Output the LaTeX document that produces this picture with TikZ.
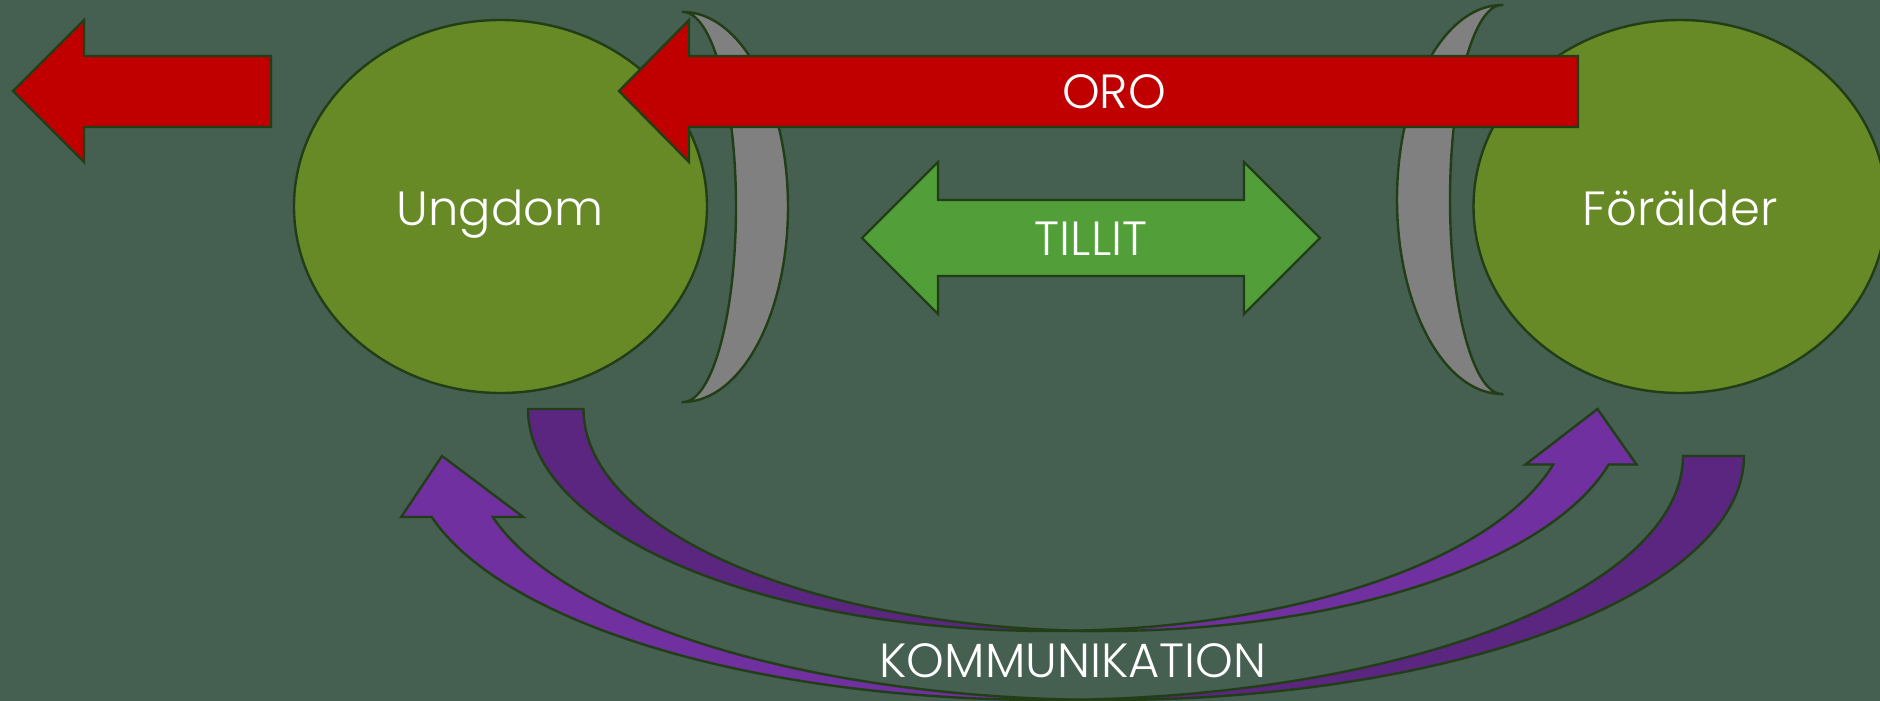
\documentclass[tikz,border=0pt]{standalone}
\usepackage{fontspec}
\setmainfont{Poppins Light}
\usetikzlibrary{shapes.geometric}
\definecolor{bgcol}{RGB}{69,95,81}
\definecolor{edgecol}{RGB}{33,62,22}
\definecolor{olivecol}{RGB}{103,138,39}
\definecolor{redcol}{RGB}{192,0,0}
\definecolor{greencol}{RGB}{82,159,57}
\definecolor{graycol}{RGB}{128,128,128}
\definecolor{purlightcol}{RGB}{112,48,160}
\definecolor{purdarkcol}{RGB}{90,38,128}
\tikzset{
  shapeline/.style={draw=edgecol, line width=2.4pt, line join=miter},
  bubble/.style={shapeline, ellipse, fill=olivecol, minimum width=413pt, minimum height=373pt, inner sep=0pt},
  moonshape/.style={shapeline, fill=graycol},
  redarrow/.style={shapeline, fill=redcol},
  greenarrow/.style={shapeline, fill=greencol},
  purlight/.style={shapeline, fill=purlightcol},
  purdark/.style={shapeline, fill=purdarkcol},
  lbl/.style={text=white, font=\fontsize{48}{58}\selectfont, inner sep=0pt, anchor=base},
}
\begin{document}
\begin{tikzpicture}[x=1pt,y=-1pt]
\useasboundingbox (0,0) rectangle (1880,701);
\clip (0,0) rectangle (1880,701);
\fill[bgcol] (0,0) rectangle (1880,701);

% bubbles
\node[bubble] (ung) at (500.5,206.5) {};
\node[bubble] (for) at (1680,206.5) {};
\node[lbl] (ungtxt) at (500,225) {Ungdom};
\node[lbl] (fortxt) at (1680,225) {Förälder};

% moons
\draw[moonshape] plot[domain=-90:90,samples=90] ({683+105*cos(\x)},{207+195*sin(\x)})
  -- plot[domain=90:-90,samples=90] ({683+53*cos(\x)},{207+195*sin(\x)}) -- cycle;
\draw[moonshape] plot[domain=270:90,samples=90] ({1502+105*cos(\x)},{199.5+194.5*sin(\x)})
  -- plot[domain=90:270,samples=90] ({1502+52*cos(\x)},{199.5+194.5*sin(\x)}) -- cycle;

% red arrows
\draw[redarrow] (13,91) -- (84,20) -- (84,56) -- (271,56) -- (271,127) -- (84,127) -- (84,162) -- cycle;
\draw[redarrow] (619,91) -- (689,20) -- (689,56) -- (1578,56) -- (1578,127) -- (689,127) -- (689,162) -- cycle;
\node[lbl] (oro) at (1114,108) {ORO};

% green double arrow
\draw[greenarrow] (862,238) -- (938,162) -- (938,200) -- (1244,200) -- (1244,162) -- (1320,238)
  -- (1244,314) -- (1244,276) -- (938,276) -- (938,314) -- cycle;
\node[lbl] (tillit) at (1091,255) {TILLIT};

% curved arrow A (towards Förälder)
\draw[purdark] (1048.875,631)
  -- plot[domain=90:180,samples=100] ({1048.875+520.875*cos(\x)},{409+222*sin(\x)})
  -- (583.5,409)
  -- plot[domain=180:90,samples=100] ({1104.375+520.875*cos(\x)},{409+222*sin(\x)})
  -- cycle;
\draw[purlight] (1597.5,409) -- (1636.46,464.5) -- (1608.71,464.5)
  -- plot[domain=14.4775:93.054,samples=100] ({1104.375+520.875*cos(\x)},{409+222*sin(\x)})
  -- plot[domain=86.946:14.4775,samples=100] ({1048.875+520.875*cos(\x)},{409+222*sin(\x)})
  -- (1525.46,464.5) -- cycle;

% curved arrow B (towards Ungdom)
\draw[purdark] (1108.25,700)
  -- plot[domain=90:0,samples=100] ({1108.25+635.75*cos(\x)},{456+244*sin(\x)})
  -- (1683,456)
  -- plot[domain=0:90,samples=100] ({1047.25+635.75*cos(\x)},{456+244*sin(\x)})
  -- cycle;
\draw[purlight] (442,456) -- (401.19,517) -- (431.69,517)
  -- plot[domain=165.5225:87.25,samples=100] ({1047.25+635.75*cos(\x)},{456+244*sin(\x)})
  -- plot[domain=92.75:165.5225,samples=100] ({1108.25+635.75*cos(\x)},{456+244*sin(\x)})
  -- (523.19,517) -- cycle;
\node[lbl] (komm) at (1073,677) {KOMMUNIKATION};
\end{tikzpicture}
\end{document}
